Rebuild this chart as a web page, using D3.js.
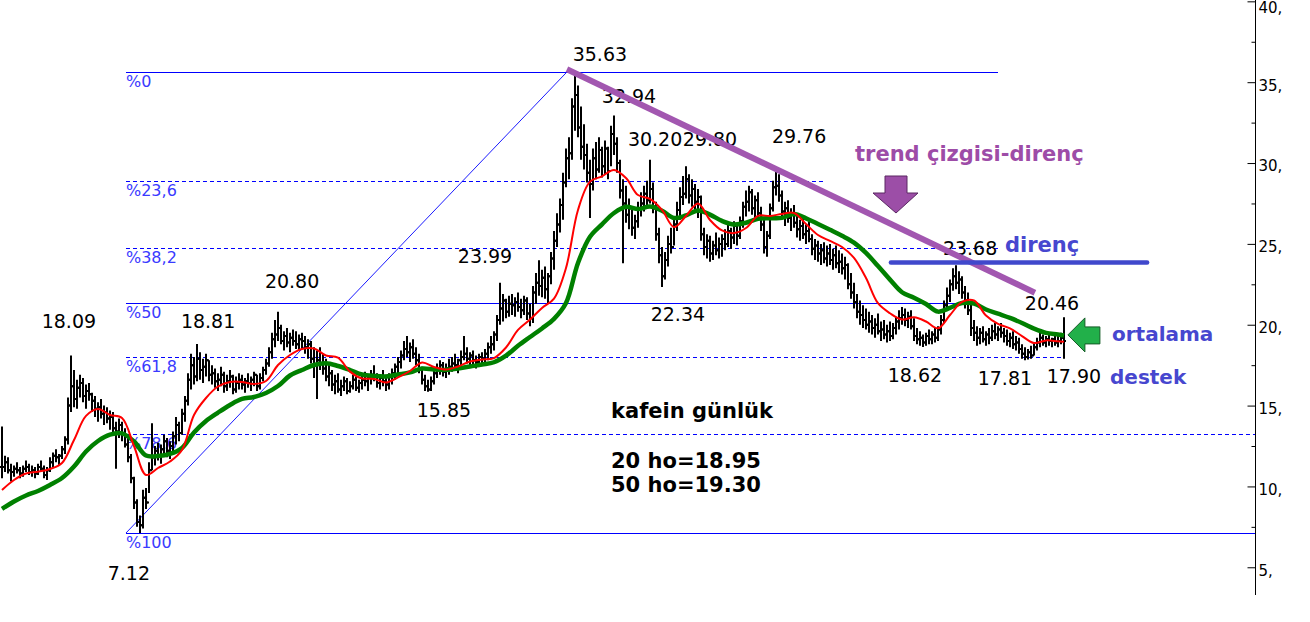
<!DOCTYPE html>
<html><head><meta charset="utf-8">
<script src="https://cdn.jsdelivr.net/npm/d3@7"></script>
<style>body{margin:0;background:#fff}svg{display:block}</style>
</head><body>
<svg id="c" width="1310" height="622"></svg>
<script>
// ---------- DATA ----------
const hi = [
13.7,11.9,11.8,11.4,11.3,11.5,11.2,11.3,11.6,11.4,
11.3,11.2,11.4,11.6,11.3,11.2,11.8,12.1,12.3,12.0,
12.5,13.1,15.5,18.09,17.2,16.6,16.9,16.7,16.3,16.4,
15.8,15.6,15.2,15.4,15.0,14.9,14.7,14.6,14.0,14.2,
14.0,13.6,13.0,12.0,10.6,9.2,8.2,9.8,9.9,11.5,
13.9,12.5,12.7,12.6,13.2,13.0,12.8,13.4,14.3,14.0,
14.8,15.6,17.0,18.2,18.0,18.81,18.3,17.9,18.2,17.8,
17.5,17.3,17.0,17.4,17.1,16.9,17.2,16.9,16.8,17.0,
16.9,16.7,17.0,16.8,17.1,16.9,17.0,17.4,17.9,18.6,
19.5,20.3,20.80,20.0,19.6,19.8,19.5,19.7,19.6,19.4,
19.5,19.3,19.1,19.0,18.6,18.4,18.6,18.2,17.9,17.6,
17.2,16.9,17.0,16.6,16.8,16.7,16.5,16.9,16.8,16.6,
16.9,17.1,16.8,17.2,17.5,17.0,16.9,17.2,16.9,17.0,
17.3,17.6,18.0,18.4,19.0,19.3,18.9,19.1,18.6,18.2,
17.4,16.9,16.6,16.8,17.3,17.6,17.8,17.7,17.6,17.9,
18.0,18.2,17.9,18.4,19.3,18.6,18.3,18.4,18.1,18.2,
18.3,18.5,18.9,19.3,19.6,20.6,22.6,21.9,21.6,21.8,
21.9,21.7,22.0,21.6,21.8,21.7,21.3,22.4,23.2,23.99,
23.4,23.6,23.2,24.5,25.8,26.9,27.8,29.4,30.9,31.6,
34.0,35.63,34.8,33.5,32.4,31.2,30.2,30.9,31.3,31.6,
31.0,31.4,31.0,32.3,32.94,31.6,30.2,29.0,28.6,27.8,
27.1,26.8,27.6,28.2,28.6,28.9,30.2,28.8,27.6,26.0,
24.8,24.5,25.5,26.0,26.6,27.6,28.5,29.2,29.80,29.3,
29.0,28.7,28.4,28.0,26.0,25.6,25.5,25.2,25.7,25.4,
25.6,25.9,26.2,26.0,26.4,26.1,26.7,27.6,28.3,28.6,
28.4,28.0,28.2,27.3,26.5,25.8,27.5,28.9,29.76,29.3,
28.3,27.6,27.7,27.2,27.4,26.8,26.5,26.6,26.2,26.4,
25.6,25.3,25.2,25.0,25.1,24.9,25.0,24.7,24.9,24.6,
24.4,24.2,23.8,23.2,22.6,21.9,21.5,21.2,21.0,20.8,
20.6,20.4,20.7,20.2,20.3,20.0,20.2,20.1,20.5,20.9,
21.1,21.0,20.8,20.9,20.4,19.8,19.6,19.4,19.5,19.7,
19.6,19.8,19.9,20.6,21.5,22.3,22.8,23.5,23.68,23.3,
23.0,22.4,22.0,21.5,20.3,19.9,19.8,19.9,19.6,19.8,
20.0,20.1,19.9,20.1,19.8,19.7,19.5,19.6,19.3,19.2,
18.8,18.6,18.5,18.7,18.9,19.2,19.5,19.4,19.3,19.5,
19.2,19.4,19.3,19.5,20.46];
const lo = [
10.5,10.9,10.8,10.3,10.6,10.8,10.5,10.6,10.9,10.7,
10.6,10.5,10.7,10.9,10.5,10.4,10.9,11.2,11.5,11.3,
11.7,12.0,12.6,14.6,14.9,14.8,15.5,15.2,14.8,15.3,
14.6,14.3,14.0,14.2,13.8,13.9,13.5,13.3,11.1,13.0,
12.8,12.4,11.5,10.2,8.6,7.5,7.12,7.4,8.6,9.6,
11.0,11.3,11.6,11.4,11.9,11.8,11.7,12.0,12.6,12.8,
13.2,14.0,15.0,16.0,16.3,16.5,16.6,16.4,16.8,16.5,
16.3,16.1,15.9,16.2,15.8,15.9,16.1,15.7,15.8,16.0,
16.0,15.8,16.1,15.9,16.2,15.9,16.0,16.5,16.9,17.4,
17.9,18.6,19.0,18.8,18.4,18.6,18.3,18.7,18.5,18.4,
18.5,18.2,17.9,17.6,16.7,15.4,17.2,16.9,16.5,16.2,
15.9,15.7,15.8,15.6,15.9,15.7,15.8,16.0,15.9,15.8,
16.0,16.2,15.9,16.3,16.5,16.1,16.0,16.2,15.9,16.0,
16.3,16.6,17.0,17.3,17.8,18.0,17.7,17.9,17.5,17.0,
16.3,15.9,15.85,15.9,16.3,16.7,16.9,16.8,16.7,16.9,
17.1,17.2,17.0,17.4,17.8,17.6,17.4,17.5,17.3,17.4,
17.5,17.6,17.8,18.2,18.4,19.0,20.0,20.2,20.4,20.5,
20.6,20.5,20.8,20.4,20.6,20.3,19.9,20.1,21.3,21.8,
21.7,21.6,21.3,22.5,23.4,24.8,25.7,26.5,28.5,29.0,
30.2,32.0,31.6,30.2,29.6,28.8,26.6,28.3,29.0,29.4,
29.1,29.3,29.0,29.8,30.5,29.4,27.8,23.8,26.3,25.9,
25.5,25.3,26.0,26.7,27.0,27.3,27.5,26.9,25.2,23.8,
22.34,22.8,23.6,24.4,24.9,25.8,26.5,27.4,27.8,27.5,
27.3,27.0,26.6,25.2,24.3,24.1,23.9,24.0,24.3,24.1,
24.2,24.6,24.8,24.7,25.0,24.9,25.3,26.0,26.7,27.0,
26.8,26.5,26.6,25.8,24.4,24.2,25.3,27.0,28.0,27.6,
26.6,26.1,26.3,25.8,26.0,25.4,25.2,25.3,25.0,25.1,
24.3,24.0,23.9,23.7,23.8,23.6,23.7,23.4,23.5,23.2,
23.1,22.8,22.2,21.6,21.0,20.4,20.0,19.8,19.7,19.5,
19.4,19.2,19.4,19.0,19.1,18.9,19.0,19.1,19.4,19.7,
20.0,19.9,19.8,19.7,19.0,18.8,18.7,18.62,18.7,18.8,
18.8,18.9,19.0,19.4,20.1,20.9,21.4,22.1,22.2,21.9,
21.6,21.0,20.6,19.3,19.0,18.7,18.8,18.9,18.7,18.8,
19.0,19.1,19.0,19.2,18.9,18.7,18.6,18.5,18.4,18.2,
17.9,17.81,17.85,17.9,18.1,18.4,18.6,18.7,18.6,18.7,
18.6,18.7,18.6,18.8,17.90];
const cl = [
11.2,11.5,11.0,10.9,11.1,11.0,10.8,11.1,11.2,10.9,
11.0,10.8,11.2,11.1,10.7,11.0,11.5,11.9,11.8,11.9,
12.3,12.9,15.0,16.2,15.4,16.1,16.4,15.6,15.9,15.7,
15.3,14.8,14.9,14.5,14.6,14.2,14.3,13.6,13.4,13.8,
13.2,12.6,11.8,10.5,9.0,7.8,7.6,9.3,9.0,11.0,
11.8,12.2,11.9,12.3,12.8,12.2,12.5,13.1,13.8,13.3,
14.5,15.3,16.6,17.5,16.8,17.9,17.2,17.4,17.8,16.9,
17.0,16.5,16.6,16.9,16.2,16.5,16.8,16.0,16.4,16.6,
16.3,16.5,16.4,16.6,16.9,16.2,16.7,17.2,17.6,18.3,
19.1,19.4,19.8,19.0,19.3,18.9,19.2,19.0,18.8,19.1,
19.0,18.6,18.8,17.9,17.5,17.8,17.6,17.3,16.8,17.0,
16.3,16.5,16.0,16.2,16.5,15.9,16.2,16.6,16.1,16.4,
16.6,16.5,16.7,16.9,16.8,16.4,16.7,16.5,16.3,16.8,
17.0,17.4,17.7,18.1,18.5,18.3,18.6,18.2,17.8,17.3,
16.6,16.2,16.0,16.5,17.0,17.2,17.5,17.1,17.3,17.4,
17.6,17.5,17.8,18.0,18.2,17.9,18.1,17.8,17.7,18.0,
17.9,18.2,18.6,18.8,19.4,20.3,21.0,21.5,20.8,21.3,
21.2,21.4,21.1,20.9,21.5,20.7,20.4,22.0,22.6,22.4,
22.9,22.2,23.0,24.1,25.2,26.2,27.4,28.8,30.3,30.6,
33.5,34.2,32.2,31.0,30.5,29.4,28.7,30.3,29.6,30.8,
29.8,30.9,29.5,31.8,31.2,30.0,28.3,27.5,26.8,27.2,
26.0,26.4,27.2,27.5,28.1,27.7,28.4,27.3,25.6,24.3,
23.0,24.0,25.0,24.8,26.2,27.1,27.9,28.1,29.0,28.0,
28.4,27.6,27.9,25.6,24.8,25.2,24.4,24.9,24.6,25.0,
25.3,25.0,25.8,25.4,26.1,25.5,26.4,27.3,27.6,28.2,
27.2,27.7,26.9,26.2,24.8,25.5,27.2,28.5,28.6,28.0,
27.0,27.2,26.6,26.8,26.3,25.9,26.1,25.6,25.8,25.3,
24.7,24.9,24.4,24.6,24.1,24.4,24.0,24.3,23.8,23.9,
23.5,23.7,22.5,22.0,21.4,20.8,20.6,20.3,20.0,20.2,
19.8,20.0,19.6,19.7,19.4,19.6,19.3,19.8,20.2,20.4,
20.6,20.3,20.5,19.9,19.3,19.1,19.2,18.9,19.3,19.1,
19.4,19.2,19.7,20.3,21.2,21.8,22.5,23.0,22.6,22.8,
22.0,21.5,20.9,19.8,19.5,19.2,19.5,19.1,19.4,19.2,
19.6,19.4,19.7,19.5,19.3,19.0,19.2,18.8,18.9,18.5,
18.2,18.0,18.3,18.1,18.6,18.9,19.2,18.9,19.1,19.0,
19.1,18.9,19.0,19.2,19.0];

// 20- and 50-period moving averages, read every 4th bar (+ last bar)
const ma20 = [
9.78,10.40,10.80,10.91,11.08,11.45,12.87,14.36,14.79,14.42,
14.23,12.50,10.71,11.14,11.54,12.25,14.42,15.47,16.18,16.46,
16.46,16.34,16.52,17.51,18.13,18.50,18.53,18.10,17.97,17.10,
16.68,16.65,16.43,16.74,17.14,17.67,17.39,17.23,17.42,17.73,
17.85,17.94,18.59,19.68,20.32,21.04,21.62,23.51,27.10,28.85,
29.18,29.57,29.07,28.02,27.78,27.10,26.04,26.73,27.50,26.48,
25.83,25.67,25.98,26.73,26.73,26.85,26.91,26.23,25.55,25.18,
24.81,24.13,22.89,21.33,20.71,20.32,20.46,20.20,19.78,20.60,
21.41,21.50,20.57,20.05,19.77,19.30,18.87,19.03,18.98,18.95];
const ma50 = [
8.61,9.07,9.44,9.72,10.09,10.52,11.23,12.16,12.81,13.20,
13.28,12.78,11.91,11.88,12.01,12.38,13.34,14.05,14.57,15.04,
15.41,15.53,15.78,16.21,16.86,17.20,17.51,17.62,17.45,17.20,
16.92,16.83,16.80,16.92,17.05,17.29,17.23,17.21,17.29,17.42,
17.54,17.68,18.09,18.70,19.24,19.77,20.36,21.34,23.82,25.44,
26.21,26.91,27.30,27.15,27.31,27.05,26.60,26.76,27.07,26.81,
26.42,26.20,26.31,26.55,26.59,26.61,26.85,26.58,26.23,25.87,
25.50,25.08,24.44,23.63,22.79,22.01,21.67,21.28,20.81,21.04,
21.34,21.31,20.94,20.68,20.42,20.11,19.76,19.50,19.40,19.33];

const yTicks = [5, 10, 15, 20, 25, 30, 35, 40];
const yMinor = [7.5, 12.5, 17.5, 22.5, 27.5, 32.5, 37.5];

// Fibonacci retracement between the 7.12 low and the 35.63 high
const fibHigh = 35.63, fibLow = 7.12;
const fibPct = [0, 23.6, 38.2, 50, 61.8, 78.6, 100];
const fibLabels = ["%0", "%23,6", "%38,2", "%50", "%61,8", "%78,6", "%100"];
const fibDashed = [false, true, true, false, true, true, false];
const fibStartIdx = 41.33;
const fibEndIdx = [332, 274.3, 332.7, 319.3, 354.3, 417.7, 417.7];
const fibDiagIdx = [41.33, 188.3];

// price annotations: text, bar index, price level of the label centre
const peakText = ["18.09","18.81","20.80","23.99","35.63","32.94","30.20","29.80","29.76","22.34","15.85","7.12","23.68","20.46","18.62","17.81","17.90"];
const peakIdx  = [22.3, 68.7, 96.7, 161, 199.3, 209, 217.7, 236, 265.7, 225.3, 147.3, 42.3, 322.7, 350, 304.3, 334.3, 357.3];
const peakVal  = [20.23, 20.23, 22.71, 24.25, 36.74, 34.15, 31.49, 31.49, 31.67, 20.66, 14.73, 4.65, 24.75, 21.34, 16.89, 16.71, 16.83];

const trendIdx = [188.3, 344.3], trendVal = [35.8, 21.98];
const resIdx = [296.3, 381.7], resVal = 23.85;
const downArrow = [298, 26.91];   // tip (bar index, price)
const leftArrow = [355.3, 19.37];

// ---------- CHART ----------
const svg = d3.select("#c");
svg.append("rect").attr("width", 1310).attr("height", 622).attr("fill", "#fff");

const n = hi.length;
const x = d3.scaleLinear().domain([0, n - 1]).range([2, 1064]);
const y = d3.scaleLinear().domain([5, 40]).range([567.28, 1.34]);
const AXIS_X = 1255;
const FONT = "'DejaVu Sans', Verdana, sans-serif";
const FIBBLUE = "#0000ff";

// Fibonacci lines
const fibVals = fibPct.map(p => fibHigh - p / 100 * (fibHigh - fibLow));
const gFib = svg.append("g");
fibVals.forEach((v, i) => {
  const yy = Math.round(y(v)) + 0.5;
  gFib.append("line")
    .attr("x1", x(fibStartIdx)).attr("x2", Math.min(x(fibEndIdx[i]), AXIS_X))
    .attr("y1", yy).attr("y2", yy)
    .attr("stroke", FIBBLUE).attr("stroke-width", 1)
    .attr("stroke-dasharray", fibDashed[i] ? "4,3" : null);
  gFib.append("text")
    .attr("x", x(fibStartIdx)).attr("y", yy + 14.5)
    .attr("font-family", FONT).attr("font-size", 16)
    .attr("fill", "#3a3aff").text(fibLabels[i]);
});
gFib.append("line")
  .attr("x1", x(fibDiagIdx[0])).attr("y1", y(fibLow))
  .attr("x2", x(fibDiagIdx[1])).attr("y2", y(fibHigh))
  .attr("stroke", FIBBLUE).attr("stroke-width", 0.9);

// OHLC bars
svg.append("g").selectAll("path").data(d3.range(n)).join("path")
  .attr("d", i => {
    const xx = x(i), o = i > 0 ? cl[i - 1] : cl[0];
    return `M${xx},${y(hi[i])}V${y(lo[i])}M${xx - 2},${y(o)}H${xx}M${xx},${y(cl[i])}H${xx + 2}`;
  })
  .attr("fill", "none").attr("stroke", "#000").attr("stroke-width", 2);

// moving averages
const maIdx = [...d3.range(0, n - 2, 4), n - 1];
const maLine = d3.line().x((d, k) => x(maIdx[k])).y(d => y(d)).curve(d3.curveCatmullRom.alpha(0.5));
svg.append("path").attr("d", maLine(ma50)).attr("fill", "none")
  .attr("stroke", "#008000").attr("stroke-width", 4.5);
svg.append("path").attr("d", maLine(ma20)).attr("fill", "none")
  .attr("stroke", "#ff0000").attr("stroke-width", 2);

// price labels
svg.append("g").selectAll("text").data(peakText).join("text")
  .attr("x", (d, i) => x(peakIdx[i])).attr("y", (d, i) => y(peakVal[i]) + 7)
  .attr("text-anchor", "middle").attr("font-family", FONT).attr("font-size", 19)
  .attr("fill", "#000").text(d => d);

// trend line (resistance)
svg.append("line")
  .attr("x1", x(trendIdx[0])).attr("y1", y(trendVal[0]))
  .attr("x2", x(trendIdx[1])).attr("y2", y(trendVal[1]))
  .attr("stroke", "#a257b0").attr("stroke-width", 6);

// horizontal resistance
svg.append("line")
  .attr("x1", x(resIdx[0])).attr("x2", x(resIdx[1]))
  .attr("y1", y(resVal)).attr("y2", y(resVal))
  .attr("stroke", "#4048cc").attr("stroke-width", 4.5).attr("stroke-linecap", "round");

// arrows
const dax = x(downArrow[0]), day = y(downArrow[1]);
svg.append("path")
  .attr("d", `M${dax-11},${day-37}H${dax+11}V${day-20}H${dax+22}L${dax},${day}L${dax-23},${day-20}H${dax-11}Z`)
  .attr("fill", "#9c4ea7").attr("stroke", "#5a2763").attr("stroke-width", 1);
const lax = x(leftArrow[0]), lay = y(leftArrow[1]);
svg.append("path")
  .attr("d", `M${lax},${lay}L${lax+17},${lay-17}V${lay-8}H${lax+32}V${lay+9}H${lax+17}V${lay+17}Z`)
  .attr("fill", "#22b04a").attr("stroke", "#145c26").attr("stroke-width", 1);

// text annotations
const notes = [
  ["trend çizgisi-direnç", 855, 161, 21, "#9d4ca7"],
  ["direnç", 1005, 252, 21, "#4747cf"],
  ["ortalama", 1112, 341, 20, "#4747cf"],
  ["destek", 1110, 383.5, 20, "#4747cf"],
  ["kafein günlük", 611, 418, 21, "#000"],
  ["20 ho=18.95", 611, 468, 21, "#000"],
  ["50 ho=19.30", 611, 492, 21, "#000"]
];
svg.append("g").selectAll("text").data(notes).join("text")
  .attr("x", d => d[1]).attr("y", d => d[2])
  .attr("font-family", FONT).attr("font-weight", "bold")
  .attr("font-size", d => d[3]).attr("fill", d => d[4]).text(d => d[0]);

// right axis
const gAx = svg.append("g").attr("transform", `translate(${AXIS_X + 0.5},0)`);
gAx.append("line").attr("x1", 0).attr("x2", 0).attr("y1", 0).attr("y2", 595)
  .attr("stroke", "#000");
const major = gAx.append("g").call(d3.axisLeft(y).tickValues(yTicks).tickSize(8).tickFormat(""));
const minor = gAx.append("g").call(d3.axisLeft(y).tickValues(yMinor).tickSize(4).tickFormat(""));
const labs = gAx.append("g").attr("transform", "translate(0,3)")
  .call(d3.axisRight(y).tickValues(yTicks).tickSize(0).tickPadding(3).tickFormat(d => d + ","));
[major, minor, labs].forEach(g => g.select(".domain").remove());
labs.selectAll("text").attr("font-family", FONT).attr("font-size", 15).attr("fill", "#000")
  .attr("dy", d => d === 40 ? "0.55em" : "0.32em");
</script>
</body></html>
